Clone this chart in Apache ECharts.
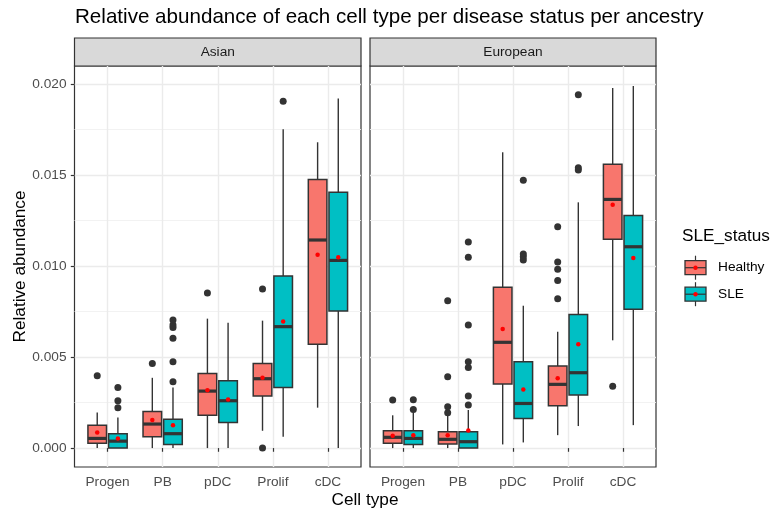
<!DOCTYPE html>
<html><head><meta charset="utf-8">
<script src="https://cdn.jsdelivr.net/npm/echarts@6/dist/echarts.min.js"></script>
<style>html,body{margin:0;padding:0;background:#fff}#c{width:772px;height:513px}</style>
</head><body><div id="c"></div>
<script>
// ---------------- data ----------------
const cellTypes = ['Progen', 'PB', 'pDC', 'Prolif', 'cDC'];
const groups = ['Healthy', 'SLE'];
const ancestries = ['Asian', 'European'];
const yTicks = [0, 0.005, 0.010, 0.015, 0.020];
const yMinorTicks = [0.0025, 0.0075, 0.0125, 0.0175];

// box stats per cell type: [lower whisker, Q1, median, Q3, upper whisker]
const asianHealthyBox = [
  [0.00000, 0.00026, 0.00053, 0.00125, 0.00196],
  [0.00000, 0.00062, 0.00132, 0.00201, 0.00386],
  [0.00000, 0.00180, 0.00313, 0.00410, 0.00711],
  [0.00095, 0.00286, 0.00381, 0.00465, 0.00700],
  [0.00222, 0.00571, 0.01143, 0.01476, 0.01680]
];
const asianHealthyMean = [0.00086, 0.00154, 0.00317, 0.00386, 0.01062];
const asianHealthyOutliers = [[0, 0.00397], [1, 0.00465], [2, 0.00852], [3, 0.00874], [3, 0.00000]];

const asianSLEBox = [
  [0.00000, 0.00000, 0.00038, 0.00079, 0.00168],
  [0.00000, 0.00020, 0.00079, 0.00158, 0.00333],
  [0.00000, 0.00141, 0.00260, 0.00370, 0.00689],
  [0.00062, 0.00333, 0.00667, 0.00945, 0.01751],
  [0.00000, 0.00753, 0.01031, 0.01405, 0.01921]
];
const asianSLEMean = [0.00053, 0.00126, 0.00267, 0.00696, 0.01048];
const asianSLEOutliers = [[0, 0.00333], [0, 0.00260], [0, 0.00222], [1, 0.00364], [1, 0.00474],
  [1, 0.00603], [1, 0.00663], [1, 0.00676], [1, 0.00703], [3, 0.01905]];

const europeanHealthyBox = [
  [0.00000, 0.00026, 0.00059, 0.00095, 0.00180],
  [0.00000, 0.00022, 0.00048, 0.00090, 0.00180],
  [0.00020, 0.00352, 0.00581, 0.00883, 0.01625],
  [0.00071, 0.00233, 0.00350, 0.00451, 0.00639],
  [0.00592, 0.01147, 0.01366, 0.01559, 0.01978]
];
const europeanHealthyMean = [0.00068, 0.00070, 0.00654, 0.00383, 0.01337];
const europeanHealthyOutliers = [[0, 0.00264], [1, 0.00194], [1, 0.00227], [1, 0.00392], [1, 0.00810],
  [3, 0.00821], [3, 0.00921], [3, 0.00982], [3, 0.01022], [3, 0.01216], [4, 0.00339]];

const europeanSLEBox = [
  [0.00000, 0.00020, 0.00053, 0.00095, 0.00196],
  [0.00000, 0.00000, 0.00035, 0.00090, 0.00209],
  [0.00031, 0.00163, 0.00245, 0.00474, 0.00782],
  [0.00121, 0.00291, 0.00414, 0.00734, 0.01350],
  [0.00126, 0.00762, 0.01106, 0.01278, 0.01989]
];
const europeanSLEMean = [0.00070, 0.00097, 0.00322, 0.00570, 0.01044];
const europeanSLEOutliers = [[0, 0.00266], [0, 0.00212], [1, 0.00236], [1, 0.00286], [1, 0.00443],
  [1, 0.00474], [1, 0.00676], [1, 0.01048], [1, 0.01132], [2, 0.01471], [2, 0.01066], [2, 0.01051],
  [2, 0.01033], [3, 0.01941], [3, 0.01540], [3, 0.01527]];

// ---------------- styling / layout ----------------
const COLORS = { Healthy: '#F8766D', SLE: '#00BFC4' };
const OFFSETS = { Healthy: -0.1875, SLE: 0.1875 };
const BOX_W = 0.3375;
const FONT = '"Liberation Sans", Arial, sans-serif';
const DARK = '#333333';
const Y_MIN = -0.00104, Y_MAX = 0.02099;

const panelData = {
  Asian: {
    Healthy: { box: asianHealthyBox, mean: asianHealthyMean, out: asianHealthyOutliers },
    SLE: { box: asianSLEBox, mean: asianSLEMean, out: asianSLEOutliers }
  },
  European: {
    Healthy: { box: europeanHealthyBox, mean: europeanHealthyMean, out: europeanHealthyOutliers },
    SLE: { box: europeanSLEBox, mean: europeanSLEMean, out: europeanSLEOutliers }
  }
};

const grids = [
  { left: 74.5, top: 66, width: 286.5, height: 401 },
  { left: 370, top: 66, width: 286, height: 401 }
];

function boxRender(offset, color) {
  return function (params, api) {
    const x = api.value(0) + 1 + offset;
    const pLow = api.coord([x, api.value(1)]);
    const pQ1 = api.coord([x, api.value(2)]);
    const pMed = api.coord([x, api.value(3)]);
    const pQ3 = api.coord([x, api.value(4)]);
    const pHigh = api.coord([x, api.value(5)]);
    const left = api.coord([x - BOX_W / 2, 0])[0];
    const right = api.coord([x + BOX_W / 2, 0])[0];
    return {
      type: 'group',
      children: [
        { type: 'line', shape: { x1: pLow[0], y1: pLow[1], x2: pQ1[0], y2: pQ1[1] }, style: { stroke: DARK, lineWidth: 1.4 } },
        { type: 'line', shape: { x1: pQ3[0], y1: pQ3[1], x2: pHigh[0], y2: pHigh[1] }, style: { stroke: DARK, lineWidth: 1.4 } },
        { type: 'rect', shape: { x: left, y: pQ3[1], width: right - left, height: pQ1[1] - pQ3[1] },
          style: { fill: color, stroke: DARK, lineWidth: 1.5 } },
        { type: 'line', shape: { x1: left, y1: pMed[1], x2: right, y2: pMed[1] }, style: { stroke: DARK, lineWidth: 3.2 } }
      ]
    };
  };
}

const xAxes = [], yAxes = [], series = [];
ancestries.forEach(function (anc, gi) {
  xAxes.push({
    type: 'value', gridIndex: gi, min: 0.4, max: 5.6,
    axisLine: { show: false },
    axisTick: { show: true, length: 3.7, customValues: [1, 2, 3, 4, 5], lineStyle: { color: DARK, width: 1.2 } },
    axisLabel: { customValues: [1, 2, 3, 4, 5], margin: 8, color: '#4D4D4D', fontSize: 13.7, fontFamily: FONT,
      formatter: function (v) { return cellTypes[Math.round(v) - 1]; } },
    splitLine: { show: true, lineStyle: { color: '#EBEBEB', width: 1.4 } }
  });
});
ancestries.forEach(function (anc, gi) {
  yAxes.push({
    type: 'value', gridIndex: gi, min: Y_MIN, max: Y_MAX,
    name: gi === 0 ? 'Relative abundance' : '',
    nameLocation: 'middle', nameGap: 46,
    nameTextStyle: { fontSize: 17.2, color: '#000', fontFamily: FONT },
    axisLine: { show: false },
    axisTick: { show: gi === 0, length: 3.7, customValues: yTicks, lineStyle: { color: DARK, width: 1.2 } },
    axisLabel: { show: gi === 0, customValues: yTicks, margin: 8, color: '#4D4D4D', fontSize: 13.7, fontFamily: FONT,
      formatter: function (v) { return v.toFixed(3); } },
    splitLine: { show: true, lineStyle: { color: '#EBEBEB', width: 1.4 } }
  });
});
// minor horizontal grid lines
ancestries.forEach(function (anc, gi) {
  yAxes.push({
    type: 'value', gridIndex: gi, min: Y_MIN, max: Y_MAX,
    axisLine: { show: false },
    axisTick: { show: false, customValues: yMinorTicks },
    axisLabel: { show: false, customValues: yMinorTicks },
    splitLine: { show: true, lineStyle: { color: '#F1F1F1', width: 0.9 } }
  });
});

ancestries.forEach(function (anc, gi) {
  groups.forEach(function (grp) {
    const d = panelData[anc][grp];
    series.push({
      type: 'custom', name: grp, xAxisIndex: gi, yAxisIndex: gi, z: 3,
      renderItem: boxRender(OFFSETS[grp], COLORS[grp]),
      data: d.box.map(function (b, i) { return [i].concat(b); }),
      silent: true
    });
    series.push({
      type: 'scatter', xAxisIndex: gi, yAxisIndex: gi, z: 4, symbol: 'circle', symbolSize: 7,
      itemStyle: { color: DARK, opacity: 1 },
      data: d.out.map(function (o) { return [o[0] + 1 + OFFSETS[grp], o[1]]; }),
      silent: true
    });
    series.push({
      type: 'scatter', xAxisIndex: gi, yAxisIndex: gi, z: 5, symbol: 'circle', symbolSize: 4.5,
      itemStyle: { color: '#FF0000', opacity: 1 },
      data: d.mean.map(function (m, i) { return [i + 1 + OFFSETS[grp], m]; }),
      silent: true
    });
  });
});

// strips, title, x-axis title, legend
const graphics = [];
graphics.push({ type: 'text', x: 75, y: 17.7, style: { text: 'Relative abundance of each cell type per disease status per ancestry',
  font: '20.6px ' + FONT, fill: '#000', align: 'left', verticalAlign: 'middle' } });
ancestries.forEach(function (anc, gi) {
  const g = grids[gi];
  graphics.push({ type: 'rect', shape: { x: g.left, y: 38, width: g.width, height: 28 },
    style: { fill: '#D9D9D9', stroke: DARK, lineWidth: 1.2 } });
  graphics.push({ type: 'text', x: g.left + g.width / 2, y: 52.5, style: { text: anc, font: '13.7px ' + FONT,
    fill: '#1A1A1A', align: 'center', verticalAlign: 'middle' } });
});
graphics.push({ type: 'text', x: 365, y: 500.5, style: { text: 'Cell type', font: '17.2px ' + FONT,
  fill: '#000', align: 'center', verticalAlign: 'middle' } });
graphics.push({ type: 'text', x: 682, y: 236.5, style: { text: 'SLE_status', font: '17.2px ' + FONT,
  fill: '#000', align: 'left', verticalAlign: 'middle' } });
groups.forEach(function (grp, i) {
  const cy = 267.7 + i * 26.5;
  const cx = 695.5;
  graphics.push({ type: 'line', shape: { x1: cx, y1: cy - 12, x2: cx, y2: cy + 12 }, style: { stroke: DARK, lineWidth: 1.2 } });
  graphics.push({ type: 'rect', shape: { x: cx - 10.5, y: cy - 7, width: 21, height: 14 },
    style: { fill: COLORS[grp], stroke: DARK, lineWidth: 1.3 } });
  graphics.push({ type: 'line', shape: { x1: cx - 10.5, y1: cy, x2: cx + 10.5, y2: cy }, style: { stroke: DARK, lineWidth: 1.2 } });
  graphics.push({ type: 'circle', shape: { cx: cx, cy: cy, r: 2.2 }, style: { fill: '#FF0000' } });
  graphics.push({ type: 'text', x: 718, y: cy, style: { text: grp, font: '13.7px ' + FONT, fill: '#000',
    align: 'left', verticalAlign: 'middle' } });
});

const chart = echarts.init(document.getElementById('c'), null, { renderer: 'canvas' });
chart.setOption({
  backgroundColor: '#ffffff',
  animation: false,
  textStyle: { fontFamily: FONT },
  grid: grids.map(function (g) {
    return { left: g.left, top: g.top, width: g.width, height: g.height, show: true,
      backgroundColor: '#fff', borderColor: DARK, borderWidth: 1.2, containLabel: false };
  }),
  xAxis: xAxes,
  yAxis: yAxes,
  series: series,
  graphic: { elements: graphics }
});
</script>
</body></html>
